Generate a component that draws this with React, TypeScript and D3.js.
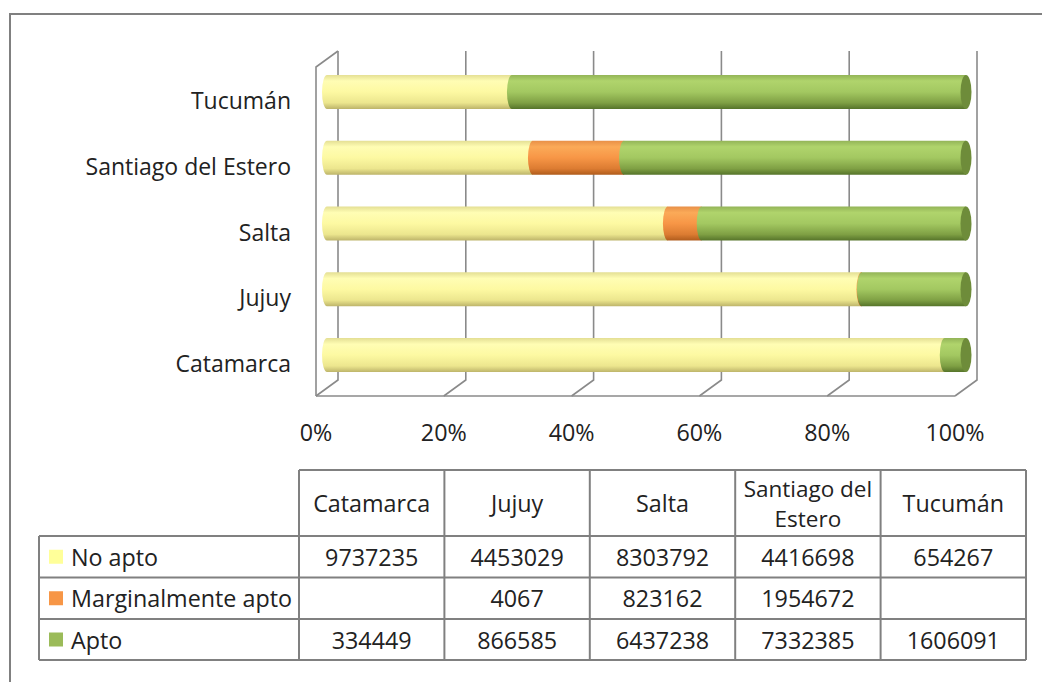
import React from "react";
import * as d3 from "d3";

const categories = ["Catamarca", "Jujuy", "Salta", "Santiago del Estero", "Tucumán"];
const headerLines = [["Catamarca"], ["Jujuy"], ["Salta"], ["Santiago del", "Estero"], ["Tucumán"]];
const seriesNames = ["No apto", "Marginalmente apto", "Apto"];
const noApto = [9737235, 4453029, 8303792, 4416698, 654267];
const marginal: (number | null)[] = [null, 4067, 823162, 1954672, null];
const apto = [334449, 866585, 6437238, 7332385, 1606091];
const ticks = [0, 0.2, 0.4, 0.6, 0.8, 1];

const W = 1042, H = 682;
const FONT = "'Open Sans', sans-serif";
const TXT = "#222";
const GRID = "#8a8a8a";
const FS_CAT = 23;
const FS = 23.3;

const swatch = ["#FFFF99", "#F79646", "#9BBB59"];
const grads = [
  { id: "gY", stops: ["#e4df94", "#fffdb4", "#fdf9a2", "#ece68e", "#bdb46a"], end: "#d8d080" },
  { id: "gO", stops: ["#e89048", "#fbaa58", "#f79646", "#dc7c32", "#b05c1c"], end: "#c06a28" },
  { id: "gG", stops: ["#93b457", "#b0d46c", "#a3c861", "#7fa044", "#56742a"], end: "#6e8c3a" },
];

export default function App() {
  const backX0 = 338;
  const plotW = 639;
  const depthX = 22, depthY = 16;
  const x = d3.scaleLinear().domain([0, 1]).range([0, plotW]);
  const backTop = 51, backBottom = 380;
  const frontBottom = backBottom + depthY;
  const midX0 = backX0 - depthX / 2;

  const order = [...categories].reverse();
  const y = d3.scalePoint<string>().domain(order).range([59, 388]).padding(0.5);
  const barH = 34;
  const rx = 5;

  const values = categories.map((c, i) => [noApto[i], marginal[i] ?? 0, apto[i]]);

  const colX = d3.scaleBand<string>().domain(categories).range([299, 1026]);
  const tLeft = 39;
  const rowYs = [470, 536, 577.5, 619, 660];

  return (
    <svg width={W} height={H} style={{ position: "absolute", left: 0, top: 0, background: "#fff" }}
      fontFamily={FONT}>
      <defs>
        {grads.map((g) => (
          <linearGradient key={g.id} id={g.id} x1="0" y1="0" x2="0" y2="1">
            <stop offset="0" stopColor={g.stops[0]} />
            <stop offset="0.18" stopColor={g.stops[1]} />
            <stop offset="0.5" stopColor={g.stops[2]} />
            <stop offset="0.82" stopColor={g.stops[3]} />
            <stop offset="1" stopColor={g.stops[4]} />
          </linearGradient>
        ))}
      </defs>
      <rect x={0} y={0} width={W} height={H} fill="#fff" />
      <path d={`M10,${H + 5} L10,14 L${W + 5},14`} fill="none" stroke="#808080" strokeWidth={2} />

      <g stroke={GRID} strokeWidth={1.6} fill="none">
        <path d={`M${backX0 - depthX},${frontBottom} L${backX0 - depthX},${backTop + depthY} L${backX0},${backTop}`} />
        <line x1={backX0 - depthX} x2={backX0 - depthX + plotW} y1={frontBottom} y2={frontBottom} />
        {ticks.map((t) => (
          <path key={t} d={`M${backX0 + x(t)},${backTop} L${backX0 + x(t)},${backBottom} L${backX0 + x(t) - depthX},${frontBottom}`} />
        ))}
      </g>

      {categories.map((c, ci) => {
        const vals = values[ci];
        const total = d3.sum(vals);
        const cy = y(c)!;
        const top = cy - barH / 2, bot = cy + barH / 2;
        let cum = 0;
        const segs: JSX.Element[] = [];
        let lastEnd = 0;
        let lastSeries = 0;
        vals.forEach((v, si) => {
          if (!v) return;
          const x0 = midX0 + x(cum / total);
          cum += v;
          const x1 = midX0 + x(cum / total);
          lastEnd = x1;
          lastSeries = si;
          segs.push(
            <path key={si}
              d={`M${x0},${top} L${x1},${top} L${x1},${bot} L${x0},${bot} A${rx},${barH / 2} 0 0 1 ${x0},${top} Z`}
              fill={`url(#${grads[si].id})`} />
          );
        });
        return (
          <g key={c}>
            {segs}
            <ellipse cx={lastEnd} cy={cy} rx={rx + 0.5} ry={barH / 2} fill={grads[lastSeries].end} />
          </g>
        );
      })}

      {categories.map((c) => (
        <text key={c} x={291} y={y(c)! + 8} textAnchor="end" dominantBaseline="central" fontSize={FS_CAT} fill={TXT}>{c}</text>
      ))}

      {ticks.map((t) => (
        <text key={t} x={backX0 - depthX + x(t)} y={432} textAnchor="middle" dominantBaseline="central" fontSize={FS} fill={TXT}>
          {d3.format(".0%")(t)}
        </text>
      ))}

      <g stroke="#808080" strokeWidth={2} fill="none">
        <line x1={299} x2={1026} y1={rowYs[0]} y2={rowYs[0]} />
        {rowYs.slice(1).map((ry) => (
          <line key={ry} x1={tLeft} x2={1026} y1={ry} y2={ry} />
        ))}
        <line x1={tLeft} x2={tLeft} y1={rowYs[1]} y2={rowYs[4]} />
        {categories.map((c) => (
          <line key={c} x1={colX(c)!} x2={colX(c)!} y1={rowYs[0]} y2={rowYs[4]} />
        ))}
        <line x1={1026} x2={1026} y1={rowYs[0]} y2={rowYs[4]} />
      </g>
      {categories.map((c, ci) => {
        const cx = colX(c)! + colX.bandwidth() / 2;
        const lines = headerLines[ci];
        const mid = (rowYs[0] + rowYs[1]) / 2;
        return lines.map((l, li) => (
          <text key={c + li} x={cx} y={mid + (li - (lines.length - 1) / 2) * 30} textAnchor="middle"
            dominantBaseline="central" fontSize={lines.length > 1 ? 22.5 : FS} fill={TXT}>{l}</text>
        ));
      })}
      {seriesNames.map((s, si) => {
        const cy = (rowYs[si + 1] + rowYs[si + 2]) / 2;
        const series = [noApto, marginal, apto][si];
        return (
          <g key={s}>
            <rect x={49} y={cy - 7} width={14} height={14} fill={swatch[si]} />
            <text x={71} y={cy} dominantBaseline="central" fontSize={FS} fill={TXT}>{s}</text>
            {categories.map((c, ci) => {
              const v = series[ci];
              if (v == null) return null;
              return (
                <text key={c} x={colX(c)! + colX.bandwidth() / 2} y={cy} textAnchor="middle" dominantBaseline="central"
                  fontSize={FS} fill={TXT}>{v}</text>
              );
            })}
          </g>
        );
      })}
    </svg>
  );
}
